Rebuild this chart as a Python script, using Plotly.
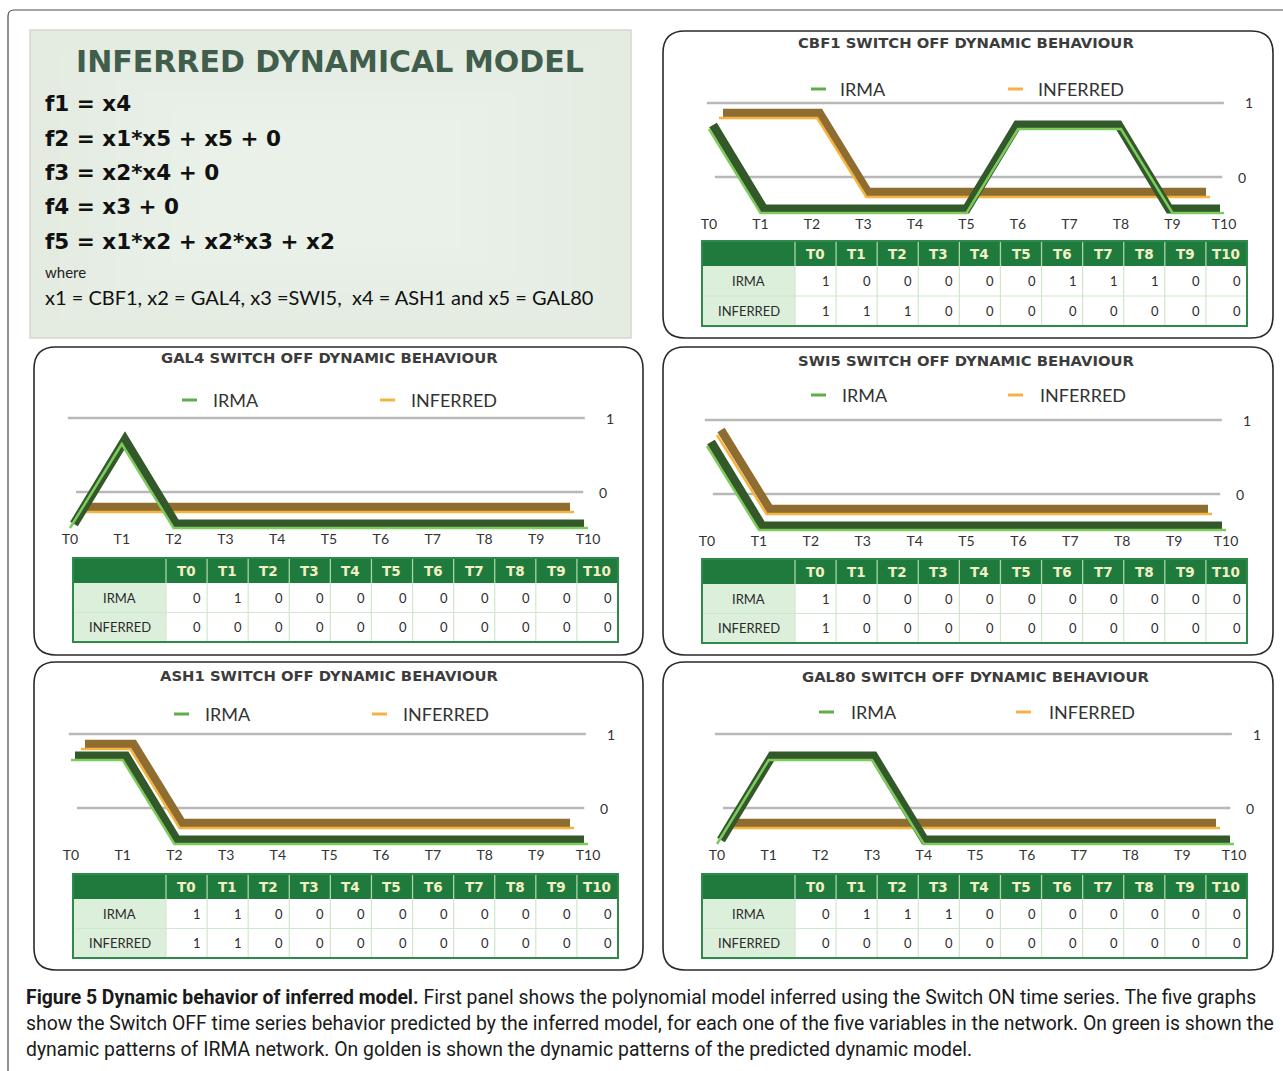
import plotly.graph_objects as go

W, H = 1283, 1071

# ---------------- data ----------------
TIMES = ["T0", "T1", "T2", "T3", "T4", "T5", "T6", "T7", "T8", "T9", "T10"]
SERIES = ["IRMA", "INFERRED"]
GRID_LEVELS = [0, 1]

CBF1_IRMA = [1, 0, 0, 0, 0, 0, 1, 1, 1, 0, 0]
CBF1_INFERRED = [1, 1, 1, 0, 0, 0, 0, 0, 0, 0, 0]
GAL4_IRMA = [0, 1, 0, 0, 0, 0, 0, 0, 0, 0, 0]
GAL4_INFERRED = [0, 0, 0, 0, 0, 0, 0, 0, 0, 0, 0]
SWI5_IRMA = [1, 0, 0, 0, 0, 0, 0, 0, 0, 0, 0]
SWI5_INFERRED = [1, 0, 0, 0, 0, 0, 0, 0, 0, 0, 0]
ASH1_IRMA = [1, 1, 0, 0, 0, 0, 0, 0, 0, 0, 0]
ASH1_INFERRED = [1, 1, 0, 0, 0, 0, 0, 0, 0, 0, 0]
GAL80_IRMA = [0, 1, 1, 1, 0, 0, 0, 0, 0, 0, 0]
GAL80_INFERRED = [0, 0, 0, 0, 0, 0, 0, 0, 0, 0, 0]

PANEL_TITLES = [
    "CBF1 SWITCH OFF DYNAMIC BEHAVIOUR",
    "GAL4 SWITCH OFF DYNAMIC BEHAVIOUR",
    "SWI5 SWITCH OFF DYNAMIC BEHAVIOUR",
    "ASH1 SWITCH OFF DYNAMIC BEHAVIOUR",
    "GAL80 SWITCH OFF DYNAMIC BEHAVIOUR",
]
PANEL_DATA = [
    (CBF1_IRMA, CBF1_INFERRED),
    (GAL4_IRMA, GAL4_INFERRED),
    (SWI5_IRMA, SWI5_INFERRED),
    (ASH1_IRMA, ASH1_INFERRED),
    (GAL80_IRMA, GAL80_INFERRED),
]

MODEL_TITLE = "INFERRED DYNAMICAL MODEL"
MODEL_EQUATIONS = [
    "f1 = x4",
    "f2 = x1*x5 + x5 + 0",
    "f3 = x2*x4 + 0",
    "f4 = x3 + 0",
    "f5 = x1*x2 + x2*x3 + x2",
]
MODEL_WHERE = "where"
MODEL_VARS = "x1 = CBF1, x2 = GAL4, x3 =SWI5,  x4 = ASH1 and x5 = GAL80"

CAPTION_LINES = [
    "<b>Figure 5 Dynamic behavior of inferred model.</b> First panel shows the polynomial model inferred using the Switch ON time series. The five graphs",
    "show the Switch OFF time series behavior predicted by the inferred model, for each one of the five variables in the network. On green is shown the",
    "dynamic patterns of IRMA network. On golden is shown the dynamic patterns of the predicted dynamic model.",
]

# ---------------- layout geometry (pixels) ----------------
PANELS = [
    dict(box=(663, 31, 1273, 338), x0=709, x10=1224, g0=177, title=(966, 43),
         leg_y=89, leg=(811, 838, 1008, 1036), table=(702, 241, 1247, 326)),
    dict(box=(34, 347, 643, 655), x0=70, x10=588, g0=492, title=(329, 358),
         leg_y=400, leg=(182, 211, 380, 409), table=(73, 558, 618, 642)),
    dict(box=(663, 347, 1273, 655), x0=707, x10=1226, g0=494, title=(966, 360),
         leg_y=395, leg=(811, 840, 1008, 1038), table=(702, 559, 1247, 643)),
    dict(box=(34, 662, 643, 970), x0=71, x10=588, g0=808, title=(329, 675),
         leg_y=714, leg=(174, 203, 372, 401), table=(73, 874, 618, 958)),
    dict(box=(663, 662, 1273, 970), x0=717, x10=1234, g0=808, title=(975, 676),
         leg_y=712, leg=(819, 849, 1016, 1047), table=(702, 874, 1247, 958)),
]

FONT = "Lato, 'Open Sans', sans-serif"
HEAVY = "'DejaVu Sans', Lato, sans-serif"
HEADER_GREEN = "#1f7b3d"
ROWLABEL_BG = "#dcefdb"
TABLE_BORDER = "#2e8a4b"
IRMA_BAND, IRMA_EDGE, IRMA_KEY = "#33582a", "#7ccb5c", "#5cae48"
INF_BAND, INF_EDGE, INF_KEY = "#8f6d30", "#f4b43f", "#f5b347"
GRID_COLOR = "#b8b8b8"


def X(px):
    return px / W


def Y(py):
    return 1 - py / H


def aid(n):
    return "" if n == 1 else str(n)


def ann(text, px, py, size, color="#333333", family=FONT, xanchor="center", weight=None):
    f = dict(family=family, size=size, color=color)
    if weight:
        f["weight"] = weight
    return dict(text=text, x=X(px), y=Y(py), xref="paper", yref="paper", showarrow=False,
                xanchor=xanchor, yanchor="middle", font=f)


def pline(x0, y0, x1, y1, color, width, layer="above"):
    return dict(type="line", xref="paper", yref="paper", x0=X(x0), x1=X(x1), y0=Y(y0), y1=Y(y1),
                line=dict(color=color, width=width), layer=layer)


def prect(x0, y0, x1, y1, fill, line_color=None, line_width=0, layer="above"):
    return dict(type="rect", xref="paper", yref="paper", x0=X(x0), x1=X(x1), y0=Y(y1), y1=Y(y0),
                fillcolor=fill, line=dict(color=line_color or "rgba(0,0,0,0)", width=line_width), layer=layer)


fig = go.Figure()
shapes = []
annotations = []
layout_axes = {}

# outer frame
shapes.append(dict(type="path", xref="paper", yref="paper",
                   path=f"M {X(8)},{Y(1071)} L {X(8)},{Y(16)} Q {X(8)},{Y(10)} {X(14)},{Y(10)} L {X(1283)},{Y(10)}",
                   line=dict(color="#4a4a4a", width=1.2)))

# model text panel with soft light centre
shapes.append(prect(30, 30, 631, 338, "#e4ebe0", "#d3d8d0", 1.5, layer="below"))
for i in range(6):
    shapes.append(prect(60 + i * 28, 50 + i * 14, 600 - i * 28, 320 - i * 14, "rgba(255,255,255,0.07)",
                        layer="below"))
annotations.append(ann(MODEL_TITLE, 330, 61, 30, "#405e4b", HEAVY, weight="bold"))
for eq, py in zip(MODEL_EQUATIONS, [104, 139, 173, 207, 242]):
    annotations.append(ann(eq, 43, py, 21.5, "#111111", HEAVY, xanchor="left", weight="bold"))
annotations.append(ann(MODEL_WHERE, 43, 272, 15, "#222222", xanchor="left"))
annotations.append(ann(MODEL_VARS, 43, 297, 20, "#111111", xanchor="left"))


def rr_path(x0, y0, x1, y1, r):
    return (f"M {X(x0 + r)},{Y(y0)} L {X(x1 - r)},{Y(y0)} Q {X(x1)},{Y(y0)} {X(x1)},{Y(y0 + r)} "
            f"L {X(x1)},{Y(y1 - r)} Q {X(x1)},{Y(y1)} {X(x1 - r)},{Y(y1)} "
            f"L {X(x0 + r)},{Y(y1)} Q {X(x0)},{Y(y1)} {X(x0)},{Y(y1 - r)} "
            f"L {X(x0)},{Y(y0 + r)} Q {X(x0)},{Y(y0)} {X(x0 + r)},{Y(y0)} Z")


# depth layers: (name, x offset at T0, x offset at T10, y px offset for 0, y px offset for 1)
LAYERS = [
    ("grid", 0, 0, 0, -74),
    ("inf_band", 14, -18, 15, -64),
    ("inf_edge", 10, -14, 20, -59),
    ("irma_band", 4, -4, 32, -52),
    ("irma_edge", 0, 0, 36, -48),
]
DOM_L, DOM_R, DOM_T, DOM_B = -14, 524, -105, 39

for k, (p, title, (irma, inf)) in enumerate(zip(PANELS, PANEL_TITLES, PANEL_DATA)):
    bx0, by0, bx1, by1 = p["box"]
    shapes.append(dict(type="path", xref="paper", yref="paper", path=rr_path(bx0, by0, bx1, by1, 22),
                       line=dict(color="#2a2a2a", width=1.6)))
    annotations.append(ann(title, p["title"][0], p["title"][1], 14.8, "#3c3c3c", HEAVY, weight="bold"))
    # legend
    mi, ti, mf, tf = p["leg"]
    ly = p["leg_y"]
    for (mx, tx, col, name) in [(mi, ti, IRMA_KEY, SERIES[0]), (mf, tf, INF_KEY, SERIES[1])]:
        shapes.append(pline(mx, ly, mx + 15, ly, col, 3))
        annotations.append(ann(name, tx, ly, 18, "#333333", xanchor="left"))

    X0, g0 = p["x0"], p["g0"]
    S10 = p["x10"] - X0
    base = 5 * k + 1
    xdom = [X(X0 + DOM_L), X(X0 + DOM_R)]
    ydom = [Y(g0 + DOM_B), Y(g0 + DOM_T)]
    for j, (lname, a, e, o0, o1) in enumerate(LAYERS):
        n = base + j
        st = (S10 + e - a) / 10.0
        xr = [(DOM_L - a) / st, (DOM_R - a) / st]
        s = o0 - o1
        yr = [(o0 - DOM_B) / s, (o0 - DOM_T) / s]
        xa = dict(type="category", categoryarray=TIMES, categoryorder="array", range=xr, fixedrange=True,
                  anchor="y" + aid(n), showgrid=False, zeroline=False, showline=False, automargin=False)
        ya = dict(range=yr, fixedrange=True, anchor="x" + aid(n), showgrid=False, zeroline=False,
                  showline=False, visible=False, automargin=False)
        if j == 0:
            xa.update(domain=xdom, ticks="", tickfont=dict(family=FONT, size=14, color="#333333"),
                      ticklabelstandoff=-2)
            ya.update(domain=ydom)
        else:
            xa.update(overlaying="x" + aid(base), visible=False)
            ya.update(overlaying="y" + aid(base))
        layout_axes["xaxis" + aid(n)] = xa
        layout_axes["yaxis" + aid(n)] = ya

    # grid lines + labels
    main_x, main_y = "x" + aid(base), "y" + aid(base)
    grid_ext = {0: (0.037, 0.98, 1.017), 1: (0.022, 0.983, 1.03)}
    for lv in GRID_LEVELS:
        a0, a1, lab = grid_ext[lv]
        shapes.append(dict(type="line", xref=main_x + " domain", yref=main_y, x0=a0, x1=a1, y0=lv, y1=lv,
                           line=dict(color=GRID_COLOR, width=2.5), layer="below"))
        annotations.append(dict(text=str(lv), xref=main_x + " domain", yref=main_y, x=lab, y=lv,
                                showarrow=False, xanchor="center", yanchor="middle",
                                font=dict(family=FONT, size=14, color="#333333")))

    fig.add_trace(go.Scatter(x=TIMES, y=[None] * len(TIMES), xaxis=main_x, yaxis=main_y,
                             mode="lines", showlegend=False, hoverinfo="skip"))
    series_style = [
        (inf, 1, INF_BAND, 8.5, SERIES[1]),
        (inf, 2, INF_EDGE, 2.5, SERIES[1]),
        (irma, 3, IRMA_BAND, 9, SERIES[0]),
        (irma, 4, IRMA_EDGE, 2.5, SERIES[0]),
    ]
    for vals, j, col, wd, name in series_style:
        n = base + j
        fig.add_trace(go.Scatter(x=TIMES, y=vals, name=name, xaxis="x" + aid(n), yaxis="y" + aid(n),
                                 mode="lines", line=dict(color=col, width=wd), showlegend=False,
                                 hoverinfo="skip"))

    # data table
    tx0, ty0, tx1, ty1 = p["table"]
    hh = 25
    rh = (ty1 - ty0 - hh) / 2.0
    c0w = 93
    cw = (tx1 - tx0 - c0w) / len(TIMES)
    shapes.append(prect(tx0, ty0, tx1, ty0 + hh, HEADER_GREEN))
    shapes.append(prect(tx0, ty0 + hh, tx0 + c0w, ty1, ROWLABEL_BG))
    shapes.append(pline(tx0, ty0 + hh + rh, tx1, ty0 + hh + rh, "#cfe7cc", 1.2))
    for j in range(len(TIMES)):
        cx = tx0 + c0w + j * cw
        shapes.append(pline(cx, ty0 + 1, cx, ty0 + hh, "#a9d6a6", 1.3))
        shapes.append(pline(cx, ty0 + hh, cx, ty1, "#cfe7cc", 1.2))
    shapes.append(prect(tx0, ty0, tx1, ty1, "rgba(0,0,0,0)", TABLE_BORDER, 2))
    for j, t in enumerate(TIMES):
        annotations.append(ann(t, tx0 + c0w + (j + 0.5) * cw, ty0 + hh / 2 + 0.5, 13.5, "#f3f0c5", HEAVY,
                               weight="bold"))
    for r, (name, vals) in enumerate(zip(SERIES, (irma, inf))):
        ry = ty0 + hh + (r + 0.5) * rh
        annotations.append(ann(name, tx0 + c0w / 2, ry, 13, "#2b2b2b"))
        for j, v in enumerate(vals):
            annotations.append(ann(str(v), tx0 + c0w + (j + 1) * cw - 4, ry, 13, "#2b2b2b", xanchor="right"))

# caption
for line, py in zip(CAPTION_LINES, [997, 1023, 1049]):
    annotations.append(ann(line, 24, py, 19.4, "#1a1a1a", "Roboto, 'Open Sans', sans-serif", xanchor="left"))

fig.update_layout(
    width=W, height=H, autosize=False,
    margin=dict(l=0, r=0, t=0, b=0, pad=0, autoexpand=False),
    paper_bgcolor="white", plot_bgcolor="rgba(0,0,0,0)",
    showlegend=False,
    shapes=shapes, annotations=annotations,
    **layout_axes,
)

fig.write_html("out.html", config={"responsive": False})
